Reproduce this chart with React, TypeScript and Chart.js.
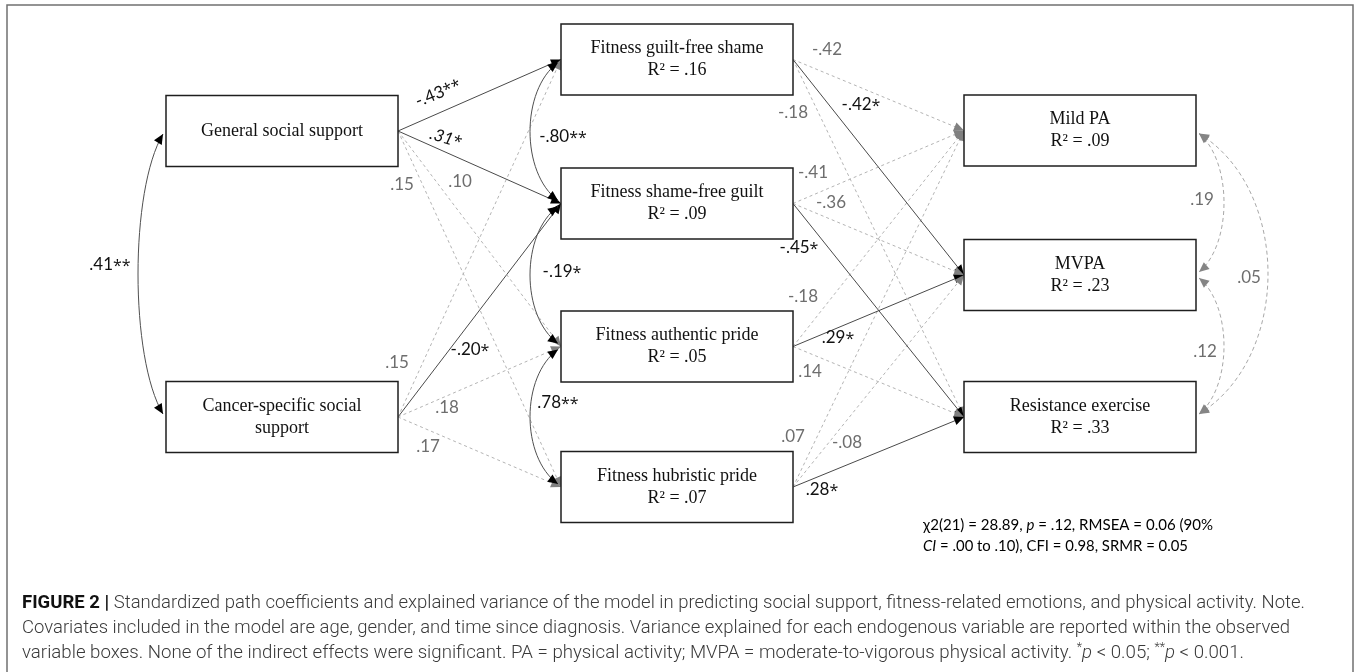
import React, { useEffect, useRef } from 'react';
import { Chart, registerables } from 'chart.js';

Chart.register(...registerables);

// ---------------- data ----------------
const nodeNames = [
  'General social support',
  'Cancer-specific social\nsupport',
  'Fitness guilt-free shame',
  'Fitness shame-free guilt',
  'Fitness authentic pride',
  'Fitness hubristic pride',
  'Mild PA',
  'MVPA',
  'Resistance exercise',
];
const nodeR2 = ['', '', '.16', '.09', '.05', '.07', '.09', '.23', '.33'];

const pathFrom = [0, 0, 0, 0, 1, 1, 1, 1, 2, 2, 2, 3, 3, 3, 4, 4, 4, 5, 5, 5];
const pathTo = [2, 3, 4, 5, 2, 3, 4, 5, 6, 7, 8, 6, 7, 8, 6, 7, 8, 6, 7, 8];
const pathCoef = [
  '-.43**', '.31*', '.10', '.15',
  '.15', '-.20*', '.18', '.17',
  '-.42', '-.42*', '-.18',
  '-.41', '-.36', '-.45*',
  '-.18', '.29*', '.14',
  '.07', '-.08', '.28*',
];

const corrA = [0, 2, 3, 4, 6, 7, 6];
const corrB = [1, 3, 4, 5, 7, 8, 8];
const corrCoef = ['.41**', '-.80**', '-.19*', '.78**', '.19', '.12', '.05'];

const fitLine1 = ['χ2(21) = 28.89, ', 'p', ' = .12, RMSEA = 0.06 (90%'];
const fitLine2 = ['CI', ' = .00 to .10), CFI = 0.98, SRMR = 0.05'];

const captionTitle = 'FIGURE 2 | ';
const captionLine1 = 'Standardized path coefficients and explained variance of the model in predicting social support, fitness-related emotions, and physical activity. Note.';
const captionLine2 = 'Covariates included in the model are age, gender, and time since diagnosis. Variance explained for each endogenous variable are reported within the observed';
const captionLine3a = 'variable boxes. None of the indirect effects were significant. PA = physical activity; MVPA = moderate-to-vigorous physical activity. ';
const captionLine3b = ' < 0.05; ';
const captionLine3c = ' < 0.001.';

// ---------------- layout ----------------
const BOX_W = 232;
const BOX_H = 71;
const nodeCX = [282, 282, 677, 677, 677, 677, 1080, 1080, 1080];
const nodeCY = [131, 417, 59.5, 203.5, 346.5, 487, 130.5, 275, 417];
const pathLabelPos: number[][] = [
  [438, 93, -22], [446, 138, 17], [460, 182, 0], [402, 185, 0],
  [397, 363, 0], [470, 350, 0], [447, 408, 0], [428, 447, 0],
  [827, 50, 0], [861, 105, 0], [793, 113, 0],
  [813, 173, 0], [831, 203, 0], [799, 248, 0],
  [803, 297, 0], [838, 338, 0], [810, 372, 0],
  [793, 437, 0], [847, 443, 0], [822, 490, 0],
];
const corrSide = [-1, -1, -1, -1, 1, 1, 1];
const corrBulge = [25, 28, 28, 28, 25, 25, 69];
const corrLabelPos: number[][] = [
  [110, 265], [563, 137], [562, 272], [558, 403], [1202, 200], [1205, 352], [1249, 278],
];

const SERIF = '"Liberation Serif", "Times New Roman", serif';
const LABEL_FONT = '17px Lato, "Open Sans", sans-serif';
const STAR_FONT = '16px "Open Sans", Lato, sans-serif';
const GRAY_TXT = '#6e6e6e';
const DARK_TXT = '#111111';

function isSig(s: string) {
  return s.indexOf('*') >= 0;
}

type Seg = { t: string; font: string; color: string; dy?: number };

function drawSegs(ctx: CanvasRenderingContext2D, segs: Seg[], x: number, y: number, targetW?: number) {
  let total = 0;
  const widths = segs.map((s) => {
    ctx.font = s.font;
    const w = ctx.measureText(s.t).width;
    total += w;
    return w;
  });
  const sx = targetW ? targetW / total : 1;
  ctx.save();
  ctx.translate(x, y);
  ctx.scale(sx, 1);
  ctx.textAlign = 'left';
  ctx.textBaseline = 'middle';
  let cx = 0;
  segs.forEach((s, i) => {
    ctx.font = s.font;
    ctx.fillStyle = s.color;
    ctx.fillText(s.t, cx, s.dy || 0);
    cx += widths[i];
  });
  ctx.restore();
}

function drawCoef(ctx: CanvasRenderingContext2D, text: string, x: number, y: number, rot: number, italic: boolean) {
  const num = text.replace(/\*/g, '');
  const stars = text.slice(num.length);
  const color = stars ? DARK_TXT : GRAY_TXT;
  const nf = (italic ? 'italic ' : '') + LABEL_FONT;
  ctx.save();
  ctx.translate(x, y);
  ctx.rotate((rot * Math.PI) / 180);
  ctx.font = nf;
  const wn = ctx.measureText(num).width;
  ctx.font = STAR_FONT;
  const ws = stars ? ctx.measureText(stars).width : 0;
  const start = -(wn + ws) / 2;
  ctx.textAlign = 'left';
  ctx.textBaseline = 'middle';
  ctx.fillStyle = color;
  ctx.font = nf;
  ctx.fillText(num, start, 0);
  if (stars) {
    ctx.font = STAR_FONT;
    ctx.fillText(stars, start + wn, 1);
  }
  ctx.restore();
}

function arrowHead(ctx: CanvasRenderingContext2D, tipX: number, tipY: number, dx: number, dy: number, color: string, len = 10, half = 4.5) {
  const l = Math.hypot(dx, dy) || 1;
  const ux = dx / l;
  const uy = dy / l;
  const bx = tipX - ux * len;
  const by = tipY - uy * len;
  ctx.beginPath();
  ctx.moveTo(tipX, tipY);
  ctx.lineTo(bx - uy * half, by + ux * half);
  ctx.lineTo(bx + uy * half, by - ux * half);
  ctx.closePath();
  ctx.fillStyle = color;
  ctx.fill();
}

const diagramPlugin = {
  id: 'pathDiagram',
  beforeDraw(chart: any) {
    const ctx: CanvasRenderingContext2D = chart.ctx;
    const xs = chart.scales.x;
    const ys = chart.scales.y;
    ctx.save();
    ctx.fillStyle = '#ffffff';
    ctx.fillRect(0, 0, chart.width, chart.height);
    ctx.strokeStyle = '#707070';
    ctx.lineWidth = 1.5;
    ctx.beginPath();
    ctx.moveTo(xs.getPixelForValue(7), ys.getPixelForValue(690));
    ctx.lineTo(xs.getPixelForValue(7), ys.getPixelForValue(5));
    ctx.lineTo(xs.getPixelForValue(1353), ys.getPixelForValue(5));
    ctx.lineTo(xs.getPixelForValue(1353), ys.getPixelForValue(690));
    ctx.stroke();
    ctx.restore();
  },
  afterDatasetsDraw(chart: any) {
    const ctx: CanvasRenderingContext2D = chart.ctx;
    const xs = chart.scales.x;
    const ys = chart.scales.y;
    const px = (v: number) => xs.getPixelForValue(v);
    const py = (v: number) => ys.getPixelForValue(v);
    ctx.save();

    // arrowheads of paths
    pathCoef.forEach((c, i) => {
      const meta = chart.getDatasetMeta(i);
      const p0 = meta.data[0];
      const p1 = meta.data[1];
      arrowHead(ctx, p1.x, p1.y, p1.x - p0.x, p1.y - p0.y, isSig(c) ? '#000000' : '#808080');
    });

    // correlation arcs
    corrA.forEach((a, i) => {
      const b = corrB[i];
      const sgn = corrSide[i];
      const x0 = px(nodeCX[a] + sgn * (BOX_W / 2 + 3));
      const x3 = px(nodeCX[b] + sgn * (BOX_W / 2 + 3));
      const y0 = py(nodeCY[a] + 3);
      const y3 = py(nodeCY[b] - 3);
      const bx = x0 + sgn * corrBulge[i];
      const c = x0 + (bx - x0) / 0.75;
      const dy = y3 - y0;
      const c1x = c, c1y = y0 + 0.2 * dy;
      const c2x = c, c2y = y3 - 0.2 * dy;
      const sig = isSig(corrCoef[i]);
      ctx.beginPath();
      ctx.moveTo(x0, y0);
      ctx.bezierCurveTo(c1x, c1y, c2x, c2y, x3, y3);
      ctx.strokeStyle = sig ? '#505050' : '#a8a8a8';
      ctx.lineWidth = 1;
      ctx.setLineDash(sig ? [] : [4, 3]);
      ctx.stroke();
      ctx.setLineDash([]);
      const col = sig ? '#000000' : '#858585';
      arrowHead(ctx, x0, y0, x0 - c1x, y0 - c1y, col);
      arrowHead(ctx, x3, y3, x3 - c2x, y3 - c2y, col);
    });

    // boxes
    nodeNames.forEach((name, i) => {
      const l = px(nodeCX[i] - BOX_W / 2);
      const r = px(nodeCX[i] + BOX_W / 2);
      const t = py(nodeCY[i] - BOX_H / 2);
      const btm = py(nodeCY[i] + BOX_H / 2);
      ctx.fillStyle = '#ffffff';
      ctx.fillRect(l, t, r - l, btm - t);
      ctx.strokeStyle = '#1e1e1e';
      ctx.lineWidth = 1.5;
      ctx.strokeRect(l, t, r - l, btm - t);
      const lines = name.split('\n');
      if (nodeR2[i]) lines.push('R² = ' + nodeR2[i]);
      const cx = px(nodeCX[i]);
      const cy = py(nodeCY[i]);
      const lh = 22;
      ctx.font = '18px ' + SERIF;
      ctx.fillStyle = '#111111';
      ctx.textAlign = 'center';
      ctx.textBaseline = 'middle';
      lines.forEach((ln, k) => {
        const yy = cy + (k - (lines.length - 1) / 2) * lh;
        ctx.fillText(ln, cx, yy);
      });
    });

    // path labels
    pathCoef.forEach((c, i) => {
      const pos = pathLabelPos[i];
      drawCoef(ctx, c, px(pos[0]), py(pos[1]), pos[2], i === 1);
    });

    // correlation labels
    corrCoef.forEach((c, i) => {
      drawCoef(ctx, c, px(corrLabelPos[i][0]), py(corrLabelPos[i][1]), 0, false);
    });

    // fit statistics
    const fN = '15px Lato, sans-serif';
    const fI = 'italic 15px Lato, sans-serif';
    drawSegs(ctx, [
      { t: fitLine1[0], font: fN, color: '#000' },
      { t: fitLine1[1], font: fI, color: '#000' },
      { t: fitLine1[2], font: fN, color: '#000' },
    ], px(923), py(525), 290);
    drawSegs(ctx, [
      { t: fitLine2[0], font: fI, color: '#000' },
      { t: fitLine2[1], font: fN, color: '#000' },
    ], px(923), py(546), 265);

    // caption
    const cN = '300 18px Roboto, sans-serif';
    const cB = '700 18px Roboto, sans-serif';
    const cI = 'italic 300 18px Roboto, sans-serif';
    const cS = '300 12px Roboto, sans-serif';
    const capCol = '#3a3a3a';
    drawSegs(ctx, [
      { t: captionTitle, font: cB, color: '#111' },
      { t: captionLine1, font: cN, color: capCol },
    ], px(22), py(603), 1283);
    drawSegs(ctx, [{ t: captionLine2, font: cN, color: capCol }], px(22), py(628), 1268);
    drawSegs(ctx, [
      { t: captionLine3a, font: cN, color: capCol },
      { t: '*', font: cS, color: capCol, dy: -5 },
      { t: 'p', font: cI, color: capCol },
      { t: captionLine3b, font: cN, color: capCol },
      { t: '**', font: cS, color: capCol, dy: -5 },
      { t: 'p', font: cI, color: capCol },
      { t: captionLine3c, font: cN, color: capCol },
    ], px(22), py(653), 1222);

    ctx.restore();
  },
};

export default function App() {
  const ref = useRef<HTMLCanvasElement | null>(null);
  useEffect(() => {
    if (!ref.current) return;
    const datasets = pathFrom.map((f, i) => {
      const t = pathTo[i];
      const sig = isSig(pathCoef[i]);
      return {
        data: [
          { x: nodeCX[f] + BOX_W / 2, y: nodeCY[f] },
          { x: nodeCX[t] - BOX_W / 2, y: nodeCY[t] },
        ],
        showLine: true,
        borderColor: sig ? '#4a4a4a' : '#b4b4b4',
        borderWidth: 1,
        borderDash: sig ? [] : [3, 3],
        pointRadius: 0,
        pointHoverRadius: 0,
        fill: false,
        tension: 0,
        clip: false as any,
      };
    });
    const chart = new Chart(ref.current, {
      type: 'scatter',
      data: { datasets },
      options: {
        animation: false,
        responsive: false,
        devicePixelRatio: 1,
        events: [],
        layout: { padding: 0 },
        scales: {
          x: { type: 'linear', min: 0, max: 1360, display: false },
          y: { type: 'linear', min: 0, max: 672, reverse: true, display: false },
        },
        plugins: { legend: { display: false }, tooltip: { enabled: false } },
      },
      plugins: [diagramPlugin],
    } as any);
    let alive = true;
    const fonts = ['18px "Liberation Serif"', '17px Lato', 'italic 17px Lato', '16px "Open Sans"', '15px Lato', 'italic 15px Lato', '300 18px Roboto', '700 18px Roboto', 'italic 300 18px Roboto'];
    Promise.all(fonts.map((f) => (document as any).fonts.load(f))).then(() => {
      if (alive) chart.draw();
    }).catch(() => {});
    return () => {
      alive = false;
      chart.destroy();
    };
  }, []);
  return (
    <div style={{ position: 'absolute', left: 0, top: 0, width: 1360, height: 672, background: '#fff' }}>
      <canvas ref={ref} width={1360} height={672} style={{ display: 'block', width: 1360, height: 672 }} />
    </div>
  );
}
